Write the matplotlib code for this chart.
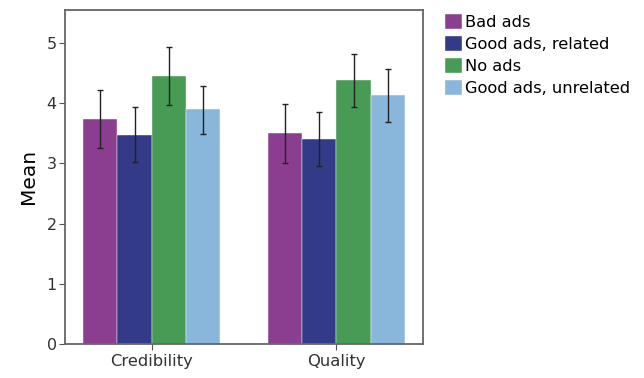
import numpy as np
import matplotlib.pyplot as plt

# -----------------------------
# Data
# -----------------------------
groups = ["Credibility", "Quality"]
conditions = ["Bad ads", "Good ads, related", "No ads", "Good ads, unrelated"]
colors = ["#8B3E8F", "#333A87", "#479B55", "#89B7DC"]

means = {
    "Bad ads": [3.74, 3.50],
    "Good ads, related": [3.47, 3.40],
    "No ads": [4.45, 4.38],
    "Good ads, unrelated": [3.90, 4.13],
}
err_low = {
    "Bad ads": [3.25, 3.00],
    "Good ads, related": [3.02, 2.95],
    "No ads": [3.97, 3.94],
    "Good ads, unrelated": [3.49, 3.69],
}
err_high = {
    "Bad ads": [4.22, 3.98],
    "Good ads, related": [3.93, 3.86],
    "No ads": [4.93, 4.82],
    "Good ads, unrelated": [4.29, 4.57],
}

# -----------------------------
# Plot
# -----------------------------
fig = plt.figure(figsize=(6.44, 3.78), dpi=100)
ax = fig.add_axes([0.101, 0.09, 0.556, 0.884])

x = np.arange(len(groups))
width = 0.186

for i, cond in enumerate(conditions):
    pos = x + (i - 1.5) * width
    m = np.array(means[cond])
    lo = m - np.array(err_low[cond])
    hi = np.array(err_high[cond]) - m
    ax.bar(pos, m, width, color=colors[i], label=cond, edgecolor="white", linewidth=0.3)
    ax.errorbar(pos, m, yerr=[lo, hi], fmt="none", ecolor="#222222",
                elinewidth=1.0, capsize=2.5, capthick=1.0)

ax.set_xlim(-0.47, 1.47)
ax.set_ylim(0, 5.55)
ax.set_xticks(x)
ax.set_xticklabels(groups, fontsize=11.8)
ax.set_yticks(range(6))
ax.tick_params(axis="y", labelsize=11.5, length=4, color="#555555", colors="#333333", pad=2)
ax.tick_params(axis="x", length=4, color="#555555", colors="#333333", pad=3)
ax.set_ylabel("Mean", fontsize=14.5, labelpad=6)

for s in ax.spines.values():
    s.set_color("#666666")
    s.set_linewidth(1.3)

ax.legend(loc="upper left", bbox_to_anchor=(1.061, 0.988), bbox_transform=ax.transAxes,
          frameon=False, fontsize=11.7, handlelength=1.05, handleheight=1.1,
          handletextpad=0.2, labelspacing=0.35, borderpad=0, borderaxespad=0)

fig.savefig("out.png", dpi=100)
